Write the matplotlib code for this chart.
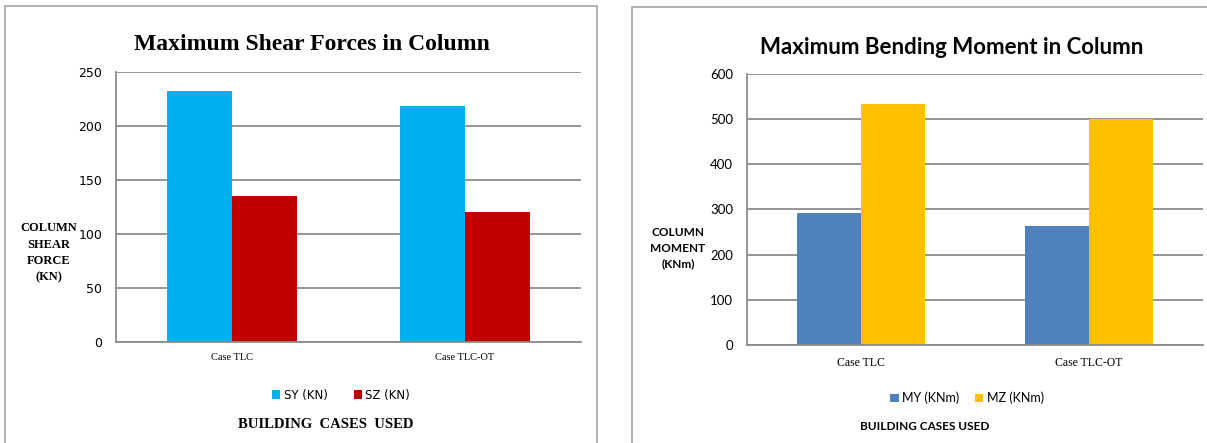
import matplotlib
matplotlib.use("Agg")
import matplotlib.pyplot as plt
from matplotlib.patches import Rectangle
import numpy as np

# data
cases = ["Case TLC", "Case TLC-OT"]
shear_sy = [232, 218]
shear_sz = [135, 120]
moment_my = [292, 264]
moment_mz = [534, 501]

W, H = 1207, 443
fig = plt.figure(figsize=(W / 100, H / 100), dpi=100)

# panel borders (pixel coords -> figure fractions)
def box(x0, y0, x1, y1):
    fig.patches.append(Rectangle((x0 / W, 1 - y1 / H), (x1 - x0) / W, (y1 - y0) / H,
                                 transform=fig.transFigure, fill=False,
                                 edgecolor="#a6a6a6", linewidth=1.2))

box(5, 6, 597, 450)
box(632, 7, 1215, 450)

grid_c = "#8c8c8c"
x = np.arange(len(cases))
bw = 0.28


def style_axes(ax, ymax, step, tickfont, tsize, pad):
    ax.set_xlim(-0.5, 1.5)
    ax.set_ylim(0, ymax)
    ax.set_yticks(np.arange(0, ymax + 1, step))
    ax.yaxis.grid(True, color=grid_c, linewidth=1.3)
    ax.set_axisbelow(True)
    for s in ["top", "right"]:
        ax.spines[s].set_visible(False)
    for s in ["left", "bottom"]:
        ax.spines[s].set_color(grid_c)
        ax.spines[s].set_linewidth(1.3)
    ax.tick_params(length=0)
    ax.tick_params(axis="y", pad=pad)
    for lab in ax.get_yticklabels():
        lab.set_family(tickfont)
        lab.set_fontsize(tsize)


# ---- left: shear forces ----
ax1 = fig.add_axes([116 / W, 1 - 341.7 / H, (581 - 116) / W, 270 / H])
ax1.bar(x - bw / 2, shear_sy, bw, color="#00B0F0", label="SY (KN)")
ax1.bar(x + bw / 2, shear_sz, bw, color="#C00000", label="SZ (KN)")
style_axes(ax1, 250, 50, ["Liberation Sans Narrow", "DejaVu Sans"], 9, 10)
ax1.set_xticks(x)
ax1.set_xticklabels(cases, family="Liberation Serif", fontsize=7.5)
ax1.tick_params(axis="x", pad=8)

fig.text(312 / W, 1 - 44 / H, "Maximum Shear Forces in Column", ha="center", va="center",
         family="Liberation Serif", weight="bold", fontsize=17)
fig.text(49 / W, 1 - 253 / H, "COLUMN\nSHEAR\nFORCE\n(KN)", ha="center", va="center",
         family="Liberation Serif", weight="bold", fontsize=9, linespacing=1.5)
fig.text(326 / W, 1 - 424 / H, "BUILDING  CASES  USED", ha="center", va="center",
         family="Liberation Serif", weight="bold", fontsize=10.5)
fig.legend(*ax1.get_legend_handles_labels(), loc="center", bbox_to_anchor=(341 / W, 1 - 395 / H),
           ncol=2, frameon=False, handlelength=0.7, handleheight=0.7, handletextpad=0.3,
           columnspacing=2.2, prop={"family": ["Liberation Sans Narrow", "DejaVu Sans"], "size": 8.5})

# ---- right: bending moment ----
ax2 = fig.add_axes([747 / W, 1 - 345 / H, (1203 - 747) / W, 271 / H])
ax2.bar(x - bw / 2, moment_my, bw, color="#4F81BD", label="MY (KNm)")
ax2.bar(x + bw / 2, moment_mz, bw, color="#FFC000", label="MZ (KNm)")
style_axes(ax2, 600, 100, "Lato", 9.5, 10)
ax2.set_xticks(x)
ax2.set_xticklabels(cases, family="Liberation Serif", fontsize=8.5)
ax2.tick_params(axis="x", pad=9)

fig.text(952 / W, 1 - 47 / H, "Maximum Bending Moment in Column", ha="center", va="center",
         family="Lato", weight="bold", fontsize=16)
fig.text(678 / W, 1 - 248 / H, "COLUMN\nMOMENT\n(KNm)", ha="center", va="center",
         family="Lato", weight="bold", fontsize=8.5, linespacing=1.5)
fig.text(925 / W, 1 - 427 / H, "BUILDING CASES USED", ha="center", va="center",
         family="Lato", weight="bold", fontsize=8.5)
fig.legend(*ax2.get_legend_handles_labels(), loc="center", bbox_to_anchor=(967 / W, 1 - 398 / H),
           ncol=2, frameon=False, handlelength=0.7, handleheight=0.7, handletextpad=0.3,
           columnspacing=1.2, prop={"family": "Lato", "size": 9})

fig.savefig("out.png", dpi=100)
